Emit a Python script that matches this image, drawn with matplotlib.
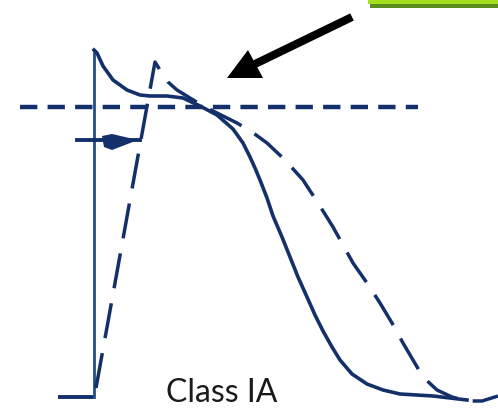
import matplotlib
matplotlib.use("Agg")
import matplotlib.pyplot as plt
from matplotlib.patches import Polygon, Rectangle

# ---- data (diagram units: x = time, y = screen row, 0 at top) ----
control_t = [58, 94, 94, 97, 103, 113, 127, 140, 150, 167, 183, 200, 217, 233, 243,
             250, 255, 260, 267, 273, 282, 290, 298, 307, 315, 323, 332, 340, 352,
             367, 383, 400, 433, 467]
control_v = [397, 397, 50, 53, 66, 80, 90, 95, 96, 96, 98, 106, 115, 129, 143,
             157, 168, 180, 198, 216, 237, 257, 277, 297, 315, 331, 347, 360, 374,
             384, 390, 394, 396, 400]

drug_t = [96, 155, 160, 168, 177, 190, 200, 215, 237, 252, 267, 285, 303, 318, 333,
          353, 367, 380, 392, 403, 413, 423, 437, 452, 467, 482, 498]
drug_v = [388, 62, 70, 82, 90, 98, 104, 112, 123, 132, 143, 160, 180, 203, 227,
          263, 283, 303, 323, 343, 360, 377, 390, 397, 401, 401, 396]

threshold_t = [20, 418]
threshold_v = [107, 107]

marker_t = [77, 140]
marker_v = [140, 140]
wedge_t = [102, 112, 138, 112, 104]
wedge_v = [136, 134, 140, 150, 147]

arrow_shaft_t = [352, 255]
arrow_shaft_v = [17, 64]
arrow_head_t = [227, 248, 263]
arrow_head_v = [78, 50, 78]

label_text = "Class IA"

NAVY = "#14306a"
LIGHTNAVY = "#1f4f86"

fig = plt.figure(figsize=(4.98, 4.12), dpi=100)
fig.patch.set_facecolor("white")
ax = fig.add_axes([0, 0, 1, 1])
ax.set_xlim(0, 498)
ax.set_ylim(412, 0)
ax.axis("off")

# green bar top right
ax.add_patch(Rectangle((368, 0), 130, 4, color="#a4e020", lw=0))
ax.add_patch(Rectangle((370, 4), 128, 3.5, color="#5a8f1f", lw=0))

# threshold dashed line
ax.plot(threshold_t, threshold_v, color=NAVY, lw=3.2, linestyle=(0, (3.9, 2.3)),
        solid_capstyle="butt", dash_capstyle="butt")

# control action potential (solid)
ax.plot(control_t[:2], control_v[:2], color=NAVY, lw=2.8, solid_capstyle="butt")
ax.plot(control_t[1:3], control_v[1:3], color=LIGHTNAVY, lw=2.0)
ax.plot(control_t[2:], control_v[2:], color=NAVY, lw=2.6, solid_joinstyle="round")

# drug action potential (dashed)
ax.plot(drug_t, drug_v, color=NAVY, lw=2.5, linestyle=(0, (10.2, 4.4)),
        dash_capstyle="butt")

# small marker with wedge
ax.plot(marker_t, marker_v, color=NAVY, lw=2.8)
ax.add_patch(Polygon(list(zip(wedge_t, wedge_v)), closed=True, color=NAVY, lw=0))

# black arrow
ax.plot(arrow_shaft_t, arrow_shaft_v, color="black", lw=5.8, solid_capstyle="butt")
ax.add_patch(Polygon(list(zip(arrow_head_t, arrow_head_v)), closed=True,
                     color="black", lw=0))

# label
ax.text(222, 402, label_text, ha="center", va="baseline", fontsize=23,
        family="Lato", color="#1a1a1a")

fig.savefig("out.png", dpi=100, facecolor="white")
